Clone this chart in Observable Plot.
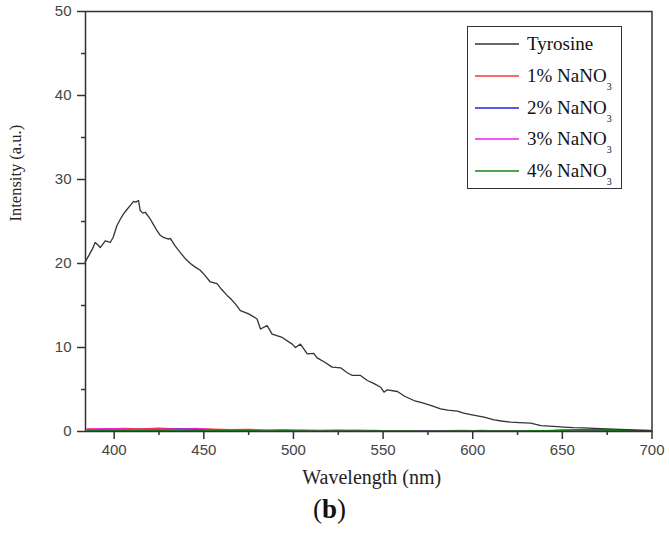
<!DOCTYPE html>
<html>
<head>
<meta charset="utf-8">
<script src="https://cdn.jsdelivr.net/npm/d3@7"></script>
<script src="https://cdn.jsdelivr.net/npm/@observablehq/plot@0.6"></script>
<style>
  html, body { margin: 0; padding: 0; background: #fff; }
  #wrap { position: relative; width: 669px; height: 544px; }
  #wrap svg text { font-family: "Liberation Sans", Arial, sans-serif; }
  #wrap svg g[aria-label="text"] text, #wrap svg g[aria-label="text"] tspan { font-family: "Liberation Serif", "Times New Roman", serif !important; }
  #legend { position: absolute; left: 467px; top: 26px; width: 155px; height: 163px; box-sizing: border-box;
            border: 1.5px solid #333; background: #fff; font-family: "Liberation Serif", "Times New Roman", serif; }
  .row { position: absolute; left: 0; height: 32px; width: 100%; }
  .row svg { position: absolute; left: 7px; top: 12px; width: 44px; height: 8px; overflow: visible; }
  .row .tx { position: absolute; left: 59px; top: 5px; font-size: 19px; line-height: 22px; color: #111; white-space: nowrap; }
  .row .tx sub { font-size: 10px; vertical-align: -8px; line-height: 0; }
  #fig { position: absolute; left: 313px; top: 494px; font-family: "Liberation Serif", "Times New Roman", serif; font-size: 27px; color: #111; line-height: 30px; }
</style>
</head>
<body>
<div id="wrap"></div>
<script>
// ---- Data ----
const tyrWave = [383.8,386,388,389.4,391,392.2,394,395,396.5,397.8,399.4,401.5,403.5,405.2,407,408.9,410.8,412,413.6,414.5,416,417.3,420.1,422,423.9,425.5,427.5,430.3,431.3,434,436.9,440,442.5,445,448,451,453.6,457.4,460,463,465,467.6,470.4,475,479.7,481.6,485.3,488.1,493.7,499.3,501.1,503.9,507.7,511.3,513.2,517,521.6,526.3,530,532.8,537.4,541.2,545,548.6,550.5,552.3,558,562,567.2,572,576.5,582.1,586,591.5,595,598.9,606.3,611.9,616,621.2,626,632.4,638,645,651,656,662.2,668,675.2,682,690,699.4];
const tyrInt = [20.2,21.0,21.8,22.5,22.2,21.9,22.4,22.7,22.6,22.5,23.1,24.5,25.3,25.9,26.4,26.9,27.4,27.3,27.5,26.3,26.0,26.1,25.3,24.6,23.9,23.4,23.1,22.9,23.0,22.1,21.3,20.5,20.0,19.6,19.2,18.5,17.8,17.6,16.9,16.2,15.8,15.2,14.4,14.0,13.4,12.2,12.6,11.6,11.2,10.4,10.0,10.4,9.25,9.3,8.77,8.3,7.66,7.58,7.0,6.67,6.67,6.07,5.7,5.27,4.68,4.96,4.76,4.2,3.69,3.4,3.1,2.70,2.55,2.42,2.2,2.02,1.70,1.39,1.25,1.11,1.05,0.99,0.71,0.6,0.51,0.45,0.44,0.38,0.32,0.25,0.18,0.12];

const lowWave = [385,395,405,415,425,435,445,455,465,475,485,495,505,515,525,535,545,555,565,575,585,595,605,615,625,635,645,655,665,675,685,695];
const nano1 = [0.30,0.25,0.35,0.30,0.38,0.28,0.32,0.25,0.20,0.22,0.15,0.18,0.12,0.10,0.14,0.08,0.10,0.06,0.09,0.05,0.08,0.06,0.10,0.05,0.07,0.04,0.10,0.15,0.08,0.12,0.06,0.05];
const nano2 = [0.15,0.20,0.12,0.22,0.18,0.30,0.25,0.15,0.12,0.10,0.08,0.12,0.06,0.09,0.05,0.10,0.07,0.05,0.06,0.08,0.04,0.06,0.05,0.07,0.04,0.06,0.08,0.10,0.12,0.09,0.07,0.04];
const nano3 = [0.25,0.32,0.28,0.20,0.26,0.22,0.35,0.20,0.18,0.15,0.12,0.10,0.14,0.08,0.10,0.12,0.06,0.09,0.07,0.05,0.08,0.10,0.06,0.05,0.09,0.07,0.06,0.12,0.18,0.20,0.14,0.06];
const nano4 = [0.10,0.08,0.12,0.10,0.15,0.12,0.18,0.14,0.10,0.08,0.06,0.07,0.05,0.06,0.04,0.05,0.06,0.04,0.05,0.03,0.05,0.04,0.06,0.05,0.04,0.08,0.10,0.18,0.22,0.15,0.10,0.05];

const seriesNames = ["Tyrosine", "1% NaNO3", "2% NaNO3", "3% NaNO3", "4% NaNO3"];
const seriesColors = ["#333333", "#ff3333", "#2222ee", "#ee22ee", "#118811"];

const xMajor = [400, 450, 500, 550, 600, 650, 700];
const xMinor = [425, 475, 525, 575, 625, 675];
const yMajor = [0, 10, 20, 30, 40, 50];
const yMinor = [5, 15, 25, 35, 45];

const xTitle = "Wavelength (nm)";
const yTitle = "Intensity (a.u.)";

// ---- Build tables ----
const tyr = tyrWave.map((w, i) => ({w, v: tyrInt[i], s: seriesNames[0]}));
const low = [nano1, nano2, nano3, nano4].flatMap((arr, k) =>
  lowWave.map((w, i) => ({w, v: arr[i], s: seriesNames[k + 1]})));

const chart = Plot.plot({
  width: 669,
  height: 544,
  marginTop: 11,
  marginBottom: 113,
  marginLeft: 85,
  marginRight: 17.5,
  style: { fontSize: "15px", color: "#333", background: "#fff" },
  x: { domain: [384, 700] },
  y: { domain: [0, 50] },
  color: { domain: seriesNames, range: seriesColors },
  marks: [
    Plot.line(low, { x: "w", y: "v", z: "s", stroke: "s", strokeWidth: 1.6 }),
    Plot.line(tyr, { x: "w", y: "v", stroke: "s", strokeWidth: 1.3 }),
    Plot.frame({ stroke: "#333", strokeWidth: 1.5 }),
    Plot.axisX({ ticks: xMajor, tickSize: 8, tickPadding: 5, tickFormat: d => String(d), label: null, stroke: "#333", strokeWidth: 1.5, fill: "#444" }),
    Plot.axisX({ ticks: xMinor, tickSize: 4, tickFormat: () => "", label: null, stroke: "#333", strokeWidth: 1.5 }),
    Plot.axisY({ ticks: yMajor, tickSize: 8, tickPadding: 6, tickFormat: d => String(d), label: null, stroke: "#333", strokeWidth: 1.5, fill: "#444" }),
    Plot.axisY({ ticks: yMinor, tickSize: 4, tickFormat: () => "", label: null, stroke: "#333", strokeWidth: 1.5 }),
    Plot.text([xTitle], { frameAnchor: "bottom", lineAnchor: "middle", dy: 46, dx: 3, fontSize: 20, fill: "#222", fontFamily: "Liberation Serif" }),
    Plot.text([yTitle], { frameAnchor: "left", lineAnchor: "middle", rotate: -90, dx: -70, fontSize: 16.5, fill: "#222", fontFamily: "Liberation Serif" })
  ]
});

const wrap = document.getElementById("wrap");
wrap.appendChild(chart);

// ---- Legend ----
const legend = document.createElement("div");
legend.id = "legend";
const rowTops = [1, 33, 65, 96, 128];
seriesNames.forEach((name, i) => {
  const row = document.createElement("div");
  row.className = "row";
  row.style.top = rowTops[i] + "px";
  row.innerHTML = `<svg width="44" height="8"><line x1="0" y1="4" x2="44" y2="4" stroke="${seriesColors[i]}" stroke-width="1.6"/></svg>`;
  const tx = document.createElement("div");
  tx.className = "tx";
  if (name.endsWith("NaNO3")) {
    tx.innerHTML = name.slice(0, -1) + "<sub>3</sub>";
  } else {
    tx.textContent = name;
  }
  row.appendChild(tx);
  legend.appendChild(row);
});
wrap.appendChild(legend);

const fig = document.createElement("div");
fig.id = "fig";
fig.innerHTML = "(<b>b</b>)";
wrap.appendChild(fig);
</script>
</body>
</html>
